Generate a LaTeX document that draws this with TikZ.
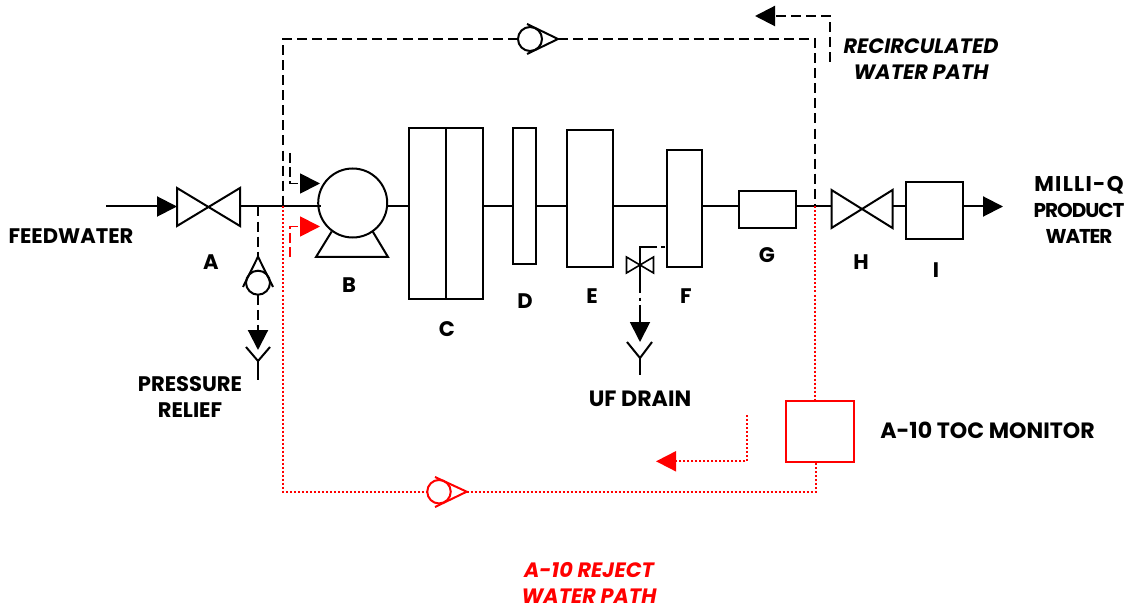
\documentclass[tikz,border=0pt]{standalone}
\usepackage{fontspec}
\setmainfont{Poppins}
\usetikzlibrary{arrows.meta}
\definecolor{rejred}{RGB}{255,0,0}
\tikzset{
  x=0.75pt,y=-0.75pt,
  ln/.style={line width=1.5pt,black,line join=miter},
  thin ln/.style={line width=1.2pt,black},
  unitbox/.style n args={2}{draw,line width=1.5pt,inner sep=0pt,outer sep=0pt,minimum width=#1*0.75pt,minimum height=#2*0.75pt},
  valvebox/.style n args={2}{inner sep=0pt,outer sep=0pt,minimum width=#1*0.75pt,minimum height=#2*0.75pt},
  rnd/.style={draw,circle,line width=1.5pt,inner sep=0pt,outer sep=0pt,minimum size=#1*0.75pt},
  flow/.style={-{Triangle[length=15pt,width=15pt]}},
  blackdash/.style={line width=1.6pt,black,dash pattern=on 7.5pt off 3.8pt},
  reddot/.style={line width=1.4pt,rejred,dash pattern=on 1.5pt off 1.5pt},
  lbl/.style={font=\fontsize{15.8}{19.5}\selectfont\bfseries,inner sep=0pt,align=center},
  ilbl/.style={font=\fontsize{15.6}{19.5}\selectfont\bfseries\itshape,inner sep=0pt,align=center},
}
\begin{document}
\begin{tikzpicture}
\useasboundingbox (0,0) rectangle (1130,609);
% equipment
\node[valvebox={63}{38}] (A) at (208.5,207) {};
\draw[ln] (A.north west) -- (A.south east) -- (A.north east) -- (A.south west) -- cycle;
\node[rnd=69] (pump) at (352.7,203) {};
\coordinate (baseL1) at (331.7,231.5); \coordinate (baseL2) at (316,257);
\coordinate (baseR2) at (388,257); \coordinate (baseR1) at (372.7,231.5);
\draw[ln] (baseL1) -- (baseL2) -- (baseR2) -- (baseR1);
\node[unitbox={74}{171}] (C) at (446,213.5) {};
\draw[ln] (C.north) -- (C.south);
\node[unitbox={23}{136}] (D) at (524.5,196) {};
\node[unitbox={46}{137}] (E) at (590,198.5) {};
\node[unitbox={35}{117}] (F) at (684.7,208.3) {};
\node[unitbox={57}{37}] (G) at (767,209.3) {};
\node[valvebox={61}{38}] (H) at (862,209) {};
\draw[ln] (H.north west) -- (H.south east) -- (H.north east) -- (H.south west) -- cycle;
\node[unitbox={57}{56.5}] (I) at (934.5,210.3) {};
\node[unitbox={68.5}{61},draw=rejred] (toc) at (820,431) {};
% main line
\coordinate (feed) at (106,206.5);
\coordinate (J1) at (258,206.5);
\coordinate (J2) at (283,206.5);
\coordinate (pumpin) at (320.5,206.5);
\coordinate (pumpout) at (387,206.5);
\coordinate (J3) at (815,206.5);
\coordinate (prod) at (1003,206.5);
\draw[ln,flow] (feed) -- (feed -| A.west);
\draw[ln] (A.east |- J1) -- (pumpin);
\draw[ln] (pumpout) -- (pumpout -| C.west);
\draw[ln] (C.east |- J1) -- (D.west |- J1);
\draw[ln] (D.east |- J1) -- (E.west |- J1);
\draw[ln] (E.east |- J1) -- (F.west |- J1);
\draw[ln] (F.east |- J1) -- (G.west |- J1);
\draw[ln] (G.east |- J1) -- (H.west |- J1);
\draw[ln] (H.east |- J1) -- (I.west |- J1);
\draw[ln,flow] (I.east |- J1) -- (prod);
% recirculation path
\node[rnd=24] (cvtop) at (530,39) {};
\draw[ln] (527,24) -- (558,39) -- (527,54);
\coordinate (TL) at (283,39); \coordinate (TR) at (815,39);
\draw[blackdash] (cvtop.west) -- (TL) -- (J2);
\draw[blackdash] (558,39) -- (TR) -- (J3);
% recirculated key arrow
\coordinate (rk1) at (830,62); \coordinate (rk2) at (830,16); \coordinate (rk3) at (755,16);
\draw[blackdash,flow] (rk1) -- (rk2) -- (rk3);
% reject path
\node[rnd=23.5,draw=rejred] (cvbot) at (439,491.7) {};
\draw[line width=1.5pt,rejred] (435,477) -- (466.7,491.7) -- (435,507);
\coordinate (BL) at (283,491.7); \coordinate (BR) at (816,491.7);
\draw[reddot] (J2) -- (BL) -- (cvbot.west);
\draw[reddot] (466.7,491.7) -- (BR) -- (BR |- toc.south);
\draw[reddot] (J3) -- (J3 |- toc.north);
% reject key arrow
\coordinate (kk1) at (747,415); \coordinate (kk2) at (747,461.3); \coordinate (kk3) at (656,461.3);
\draw[reddot,flow] (kk1) -- (kk2) -- (kk3);
% pump side arrows
\coordinate (pb1) at (290,153); \coordinate (pb2) at (290,183.5); \coordinate (pb3) at (320,183.5);
\draw[line width=1.4pt,black,dash pattern=on 7.5pt off 3pt,flow] (pb1) -- (pb2) -- (pb3);
\coordinate (pr1) at (290,257); \coordinate (pr2) at (290,226.5); \coordinate (pr3) at (320,226.5);
\draw[line width=1.4pt,rejred,dash pattern=on 7.5pt off 3pt,flow] (pr1) -- (pr2) -- (pr3);
% pressure relief
\node[rnd=24] (cvrel) at (258,282.7) {};
\draw[ln] (243,287) -- (258,256.7) -- (273,287);
\coordinate (drain1) at (258,350);
\draw[blackdash] (J1) -- (258,256.7);
\draw[blackdash,flow] (cvrel.south) -- (drain1);
\coordinate (yj1) at (258,361);
\draw[ln] (246,347) -- (yj1) -- (270,347);
\draw[ln] (yj1) -- (258,380);
% UF drain
\node[valvebox={27}{16}] (uf) at (640,265) {};
\draw[thin ln] (uf.north west) -- (uf.south east) -- (uf.north east) -- (uf.south west) -- cycle;
\coordinate (ufa) at (665,247); \coordinate (ufb) at (640,247);
\coordinate (ufdrain) at (640,342);
\draw[line width=1.2pt,black,dash pattern=on 3pt off 3pt on 40pt off 0pt] (ufa) -- (ufb) -- (uf.center);
\draw[line width=1.4pt,black,dash pattern=on 21pt off 3.5pt on 2.5pt off 3pt on 40pt off 0pt,flow] (uf.center) -- (ufdrain);
\coordinate (yj2) at (640,358);
\draw[ln] (627,342) -- (yj2) -- (652,342);
\draw[ln] (yj2) -- (640,375);
% labels
\node[lbl] (tFeed) at (71,236) {FEEDWATER};
\node[lbl] (tA) at (211,262) {A};
\node[lbl] (tB) at (349,285) {B};
\node[lbl] (tC) at (447,329) {C};
\node[lbl] (tD) at (525,301) {D};
\node[lbl] (tE) at (592,296) {E};
\node[lbl] (tF) at (686,296) {F};
\node[lbl] (tG) at (767,255) {G};
\node[lbl] (tH) at (861,262) {H};
\node[lbl] (tI) at (936,270) {I};
\node[lbl] (tRelief) at (190,397) {PRESSURE\\RELIEF};
\node[lbl] (tUF) at (640,399) {\fontsize{16.6}{19.5}\selectfont UF DRAIN};
\node[lbl] (tProd) at (1079,210) {\fontsize{16}{19.5}\selectfont\addfontfeature{LetterSpace=6}MILLI-Q\\\fontsize{15}{19.5}\selectfont\addfontfeature{LetterSpace=-5}PRODUCT\\\fontsize{15}{19.5}\selectfont\addfontfeature{LetterSpace=-6}WATER};
\node[lbl,anchor=west] (tToc) at (880,430) {\fontsize{16.6}{19.5}\selectfont A-10 TOC MONITOR};
\node[ilbl] (tRec) at (921,59) {RECIRCULATED\\WATER PATH};
\node[ilbl,text=rejred] (tRej) at (589,583) {A-10 REJECT\\WATER PATH};
\end{tikzpicture}
\end{document}
